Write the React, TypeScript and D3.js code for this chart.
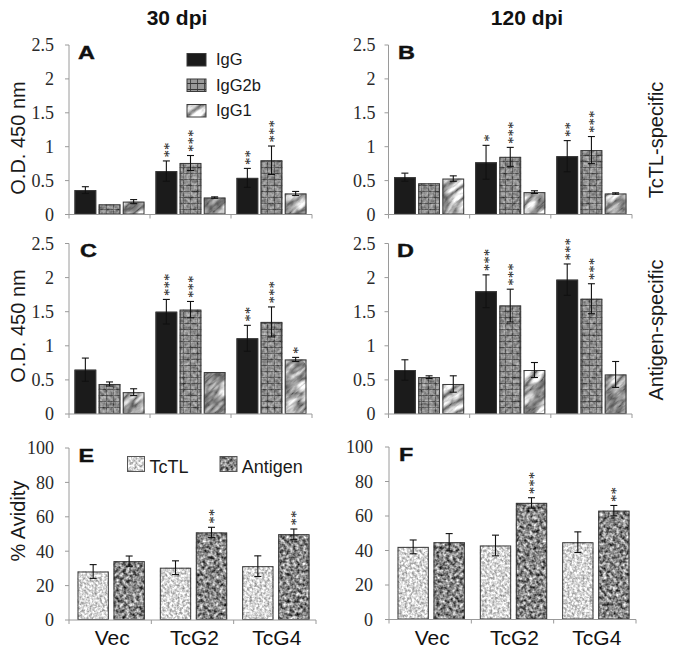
import React from "react";
import * as d3 from "d3";

// ---------- data ----------
const categories = ["Vec", "TcG2", "TcG4"];
const isotypes = ["IgG", "IgG2b", "IgG1"];
const sources = ["TcTL", "Antigen"];
const odTicks = [0, 0.5, 1, 1.5, 2, 2.5];
const avidityTicks = [0, 20, 40, 60, 80, 100];

// Panel A: TcTL-specific, 30 dpi  (rows = categories, cols = isotypes)
const aMean = [[0.36, 0.15, 0.19], [0.64, 0.76, 0.25], [0.54, 0.8, 0.31]];
const aErr = [[0.05, 0, 0.03], [0.15, 0.11, 0.01], [0.14, 0.21, 0.03]];
const aSig = [["", "", ""], ["**", "***", ""], ["**", "***", ""]];

// Panel B: TcTL-specific, 120 dpi
const bMean = [[0.55, 0.46, 0.53], [0.77, 0.85, 0.33], [0.86, 0.95, 0.31]];
const bErr = [[0.06, 0, 0.04], [0.25, 0.14, 0.02], [0.23, 0.2, 0.01]];
const bSig = [["", "", ""], ["*", "***", ""], ["**", "***", ""]];

// Panel C: Antigen-specific, 30 dpi
const cMean = [[0.65, 0.44, 0.32], [1.5, 1.53, 0.615], [1.11, 1.35, 0.8]];
const cErr = [[0.17, 0.03, 0.05], [0.18, 0.12, 0], [0.19, 0.22, 0.03]];
const cSig = [["", "", ""], ["***", "***", ""], ["**", "***", "*"]];

// Panel D: Antigen-specific, 120 dpi
const dMean = [[0.645, 0.54, 0.44], [1.8, 1.59, 0.645], [1.97, 1.69, 0.58]];
const dErr = [[0.15, 0.02, 0.12], [0.24, 0.24, 0.11], [0.23, 0.22, 0.19]];
const dSig = [["", "", ""], ["***", "***", ""], ["***", "***", ""]];

// Panel E: % avidity, 30 dpi (cols = sources)
const eMean = [[28.2, 34.2], [30.4, 50.9], [31.3, 49.9]];
const eErr = [[4, 3], [4, 3], [6, 3]];
const eSig = [["", ""], ["", "**"], ["", "**"]];

// Panel F: % avidity, 120 dpi
const fMean = [[42.1, 44.8], [42.9, 67.6], [44.8, 63.1]];
const fErr = [[4, 5], [6, 3], [6, 3]];
const fSig = [["", ""], ["", "***"], ["", "**"]];

// ---------- styling ----------
const SANS = "'Liberation Sans', Arial, Helvetica, sans-serif";
const SERIF = "'Liberation Serif', 'Times New Roman', Times, serif";
const isoFills = ["#1b1b1b", "url(#pGrid)", "url(#pMarble)"];
const srcFills = ["url(#pTctl)", "url(#pAntigen)"];

type PanelProps = {
  left: number; right: number; top: number; bottom: number;
  max: number; ticks: number[];
  means: number[][]; errs: number[][]; sigs: string[][];
  keys: string[]; fills: string[];
  padL: number; padR: number; inner: number;
  labelGap: number;
};

function Panel(p: PanelProps) {
  const x = d3.scaleBand<string>().domain(categories).range([p.left, p.right]);
  const y = d3.scaleLinear().domain([0, p.max]).range([p.bottom, p.top]);
  const xi = d3
    .scaleBand<string>()
    .domain(p.keys)
    .range([p.padL, x.bandwidth() - p.padR])
    .paddingInner(p.inner);
  const axisColor = "#9a9a9a";
  const boundaries = [...categories.map((c) => x(c) as number), p.right];
  const starSize = 15;
  return (
    <g>
      {/* bars */}
      {categories.map((c, ci) =>
        p.keys.map((k, ki) => {
          const m = p.means[ci][ki];
          const e = p.errs[ci][ki];
          const bx = (x(c) as number) + (xi(k) as number);
          const bw = xi.bandwidth();
          const cx = bx + bw / 2;
          const yTop = y(m);
          const errTop = y(m + e);
          const sig = p.sigs[ci][ki];
          const isGrid = p.fills[ki] === "url(#pGrid)";
          return (
            <g key={c + k}>
              <rect x={bx} y={yTop} width={bw} height={y(0) - yTop} fill={p.fills[ki]} />
              {isGrid && (
                <rect x={bx} y={yTop} width={bw} height={y(0) - yTop} fill="url(#pNoise)" opacity={0.4} />
              )}
              <rect
                x={bx + 0.5}
                y={yTop + 0.5}
                width={bw - 1}
                height={y(0) - yTop - 1}
                fill="none"
                stroke="#3a3a3a"
                strokeWidth={1}
              />
              {e > 0 && (
                <g stroke="#111" strokeWidth={1.1}>
                  <line x1={cx} x2={cx} y1={y(m - e)} y2={errTop} />
                  <line x1={cx - 3.5} x2={cx + 3.5} y1={errTop} y2={errTop} />
                  <line x1={cx - 3.5} x2={cx + 3.5} y1={y(m - e)} y2={y(m - e)} />
                </g>
              )}
              {sig && (
                <text
                  transform={`translate(${cx + starSize * 0.5},${errTop - 3.5}) rotate(-90)`}
                  fontFamily={SERIF}
                  fontSize={starSize}
                  fill="#111"
                >
                  {sig}
                </text>
              )}
            </g>
          );
        })
      )}
      {/* y axis */}
      <line x1={p.left} x2={p.left} y1={y(0)} y2={y(p.max)} stroke={axisColor} />
      {p.ticks.map((t) => (
        <g key={t}>
          <line x1={p.left - 4} x2={p.left} y1={y(t)} y2={y(t)} stroke={axisColor} />
          <text
            x={p.left - p.labelGap}
            y={y(t)}
            dy="0.36em"
            textAnchor="end"
            fontFamily={SERIF}
            fontSize={18}
            fill="#2a2a2a"
          >
            {String(t)}
          </text>
        </g>
      ))}
      {/* x axis */}
      <line x1={p.left} x2={p.right} y1={y(0)} y2={y(0)} stroke={axisColor} />
      {boundaries.map((b, i) => (
        <line key={i} x1={b} x2={b} y1={y(0)} y2={y(0) + 4} stroke={axisColor} />
      ))}
    </g>
  );
}

function Letter({ x, y, t }: { x: number; y: number; t: string }) {
  return (
    <text
      transform={`translate(${x},${y}) scale(1.3,1)`}
      fontFamily={SANS}
      fontWeight="bold"
      fontSize={18}
      fill="#111"
      stroke="#111"
      strokeWidth={0.4}
    >
      {t}
    </text>
  );
}

function VText({ x, y, t, size = 20 }: { x: number; y: number; t: string; size?: number }) {
  return (
    <text
      transform={`translate(${x},${y}) rotate(-90)`}
      textAnchor="middle"
      fontFamily={SANS}
      fontSize={size}
      fill="#1a1a1a"
    >
      {t}
    </text>
  );
}

export default function App() {
  const odCommon = { max: 2.5, ticks: odTicks, keys: isotypes, fills: isoFills, padL: 5.5, padR: 5.5, inner: 0.1 };
  const avCommon = { max: 100, ticks: avidityTicks, keys: sources, fills: srcFills, padL: 8.5, padR: 6.5, inner: 0.13 };
  const xCats = d3.scaleBand<string>().domain(categories);
  return (
    <svg
      width={675}
      height={656}
      style={{ position: "absolute", left: 0, top: 0, background: "#fff" }}
      xmlns="http://www.w3.org/2000/svg"
    >
      <defs>
        <filter id="fTctl" colorInterpolationFilters="sRGB">
          <feTurbulence type="fractalNoise" baseFrequency="0.4" numOctaves={2} seed={3} />
          <feColorMatrix
            type="matrix"
            values="0.9 0 0 0 0.39  0.9 0 0 0 0.39  0.9 0 0 0 0.39  0 0 0 0 1"
          />
        </filter>
        <filter id="fAntigen" colorInterpolationFilters="sRGB">
          <feTurbulence type="fractalNoise" baseFrequency="0.3" numOctaves={2} seed={7} />
          <feColorMatrix
            type="matrix"
            values="1.4 0 0 0 -0.17  1.4 0 0 0 -0.17  1.4 0 0 0 -0.17  0 0 0 0 1"
          />
        </filter>
        <filter id="fMarble" colorInterpolationFilters="sRGB">
          <feTurbulence type="turbulence" baseFrequency="0.035 0.1" numOctaves={3} seed={11} />
          <feColorMatrix
            type="matrix"
            values="1.2 0 0 0 0.3  1.2 0 0 0 0.3  1.2 0 0 0 0.3  0 0 0 0 1"
          />
        </filter>
        <pattern id="pTctl" patternUnits="userSpaceOnUse" width={340} height={340}>
          <rect width={340} height={340} fill="#ddd" filter="url(#fTctl)" />
        </pattern>
        <pattern id="pAntigen" patternUnits="userSpaceOnUse" width={340} height={340}>
          <rect width={340} height={340} fill="#888" filter="url(#fAntigen)" />
        </pattern>
        <pattern id="pNoise" patternUnits="userSpaceOnUse" width={340} height={340}>
          <rect width={340} height={340} fill="#888" filter="url(#fAntigen)" />
        </pattern>
        <pattern
          id="pMarble"
          patternUnits="userSpaceOnUse"
          width={400}
          height={400}
          patternTransform="rotate(-40)"
        >
          <rect width={400} height={400} fill="#bbb" filter="url(#fMarble)" />
        </pattern>
        <pattern id="pGrid" patternUnits="userSpaceOnUse" width={7} height={6}>
          <rect width={7} height={6} fill="#9a9a9a" />
          <path d="M0 5.5H7" stroke="#383838" strokeWidth={1} />
          <path d="M1.5 0V5" stroke="#4a4a4a" strokeWidth={1} />
        </pattern>
      </defs>
      <rect width={675} height={656} fill="#fff" />

      {/* column titles */}
      <text x={177} y={25} textAnchor="middle" fontFamily={SANS} fontWeight="bold" fontSize={21} fill="#111">
        30 dpi
      </text>
      <text x={527} y={25} textAnchor="middle" fontFamily={SANS} fontWeight="bold" fontSize={21} fill="#111">
        120 dpi
      </text>

      {/* panels */}
      <Panel {...odCommon} left={69} right={312} top={45} bottom={214.5} means={aMean} errs={aErr} sigs={aSig} labelGap={15} />
      <Panel {...odCommon} left={388.5} right={632} top={45} bottom={214.5} means={bMean} errs={bErr} sigs={bSig} labelGap={13} />
      <Panel {...odCommon} left={69} right={312} top={243.5} bottom={414} means={cMean} errs={cErr} sigs={cSig} labelGap={15} />
      <Panel {...odCommon} left={388.5} right={632} top={243.5} bottom={414} means={dMean} errs={dErr} sigs={dSig} labelGap={13} />
      <Panel {...avCommon} left={69} right={316} top={448} bottom={620} means={eMean} errs={eErr} sigs={eSig} labelGap={15} />
      <Panel {...avCommon} left={389} right={636} top={447} bottom={619.5} means={fMean} errs={fErr} sigs={fSig} labelGap={16} />

      {/* panel letters */}
      <Letter x={78} y={59} t="A" />
      <Letter x={398} y={59} t="B" />
      <Letter x={80} y={256.5} t="C" />
      <Letter x={397} y={256.5} t="D" />
      <Letter x={78.5} y={461.5} t="E" />
      <Letter x={399} y={460.5} t="F" />

      {/* legend (panel A) */}
      {isotypes.map((k, i) => (
        <g key={k}>
          <rect x={187} y={53.5 + i * 25.5} width={19} height={12.5} fill={isoFills[i]} stroke="#3a3a3a" strokeWidth={1} />
          <text x={216} y={65 + i * 25.5} fontFamily={SANS} fontSize={16.5} fill="#1a1a1a">
            {k}
          </text>
        </g>
      ))}

      {/* legend (panel E) */}
      {sources.map((k, i) => (
        <g key={k}>
          <rect x={127.5 + i * 92.5} y={456.5} width={17} height={15} fill={srcFills[i]} stroke="#555" strokeWidth={1} />
          <text x={149.5 + i * 92.3} y={473} fontFamily={SANS} fontSize={18} fill="#1a1a1a">
            {k}
          </text>
        </g>
      ))}

      {/* axis titles */}
      <VText x={25} y={138} t="O.D. 450 nm" />
      <VText x={25} y={326} t="O.D. 450 nm" />
      <VText x={25} y={521} t="% Avidity" />
      <VText x={663} y={140} t="TcTL-specific" />
      <VText x={663} y={330} t="Antigen-specific" />

      {/* category labels */}
      {[{ l: 69, r: 316 }, { l: 389, r: 636 }].map((pr, pi) => {
        const xs = xCats.copy().range([pr.l, pr.r]);
        return categories.map((c) => (
          <text
            key={pi + c}
            x={(xs(c) as number) + xs.bandwidth() / 2 + 2}
            y={645}
            textAnchor="middle"
            fontFamily={SANS}
            fontSize={21}
            fill="#111"
          >
            {c}
          </text>
        ));
      })}
    </svg>
  );
}
